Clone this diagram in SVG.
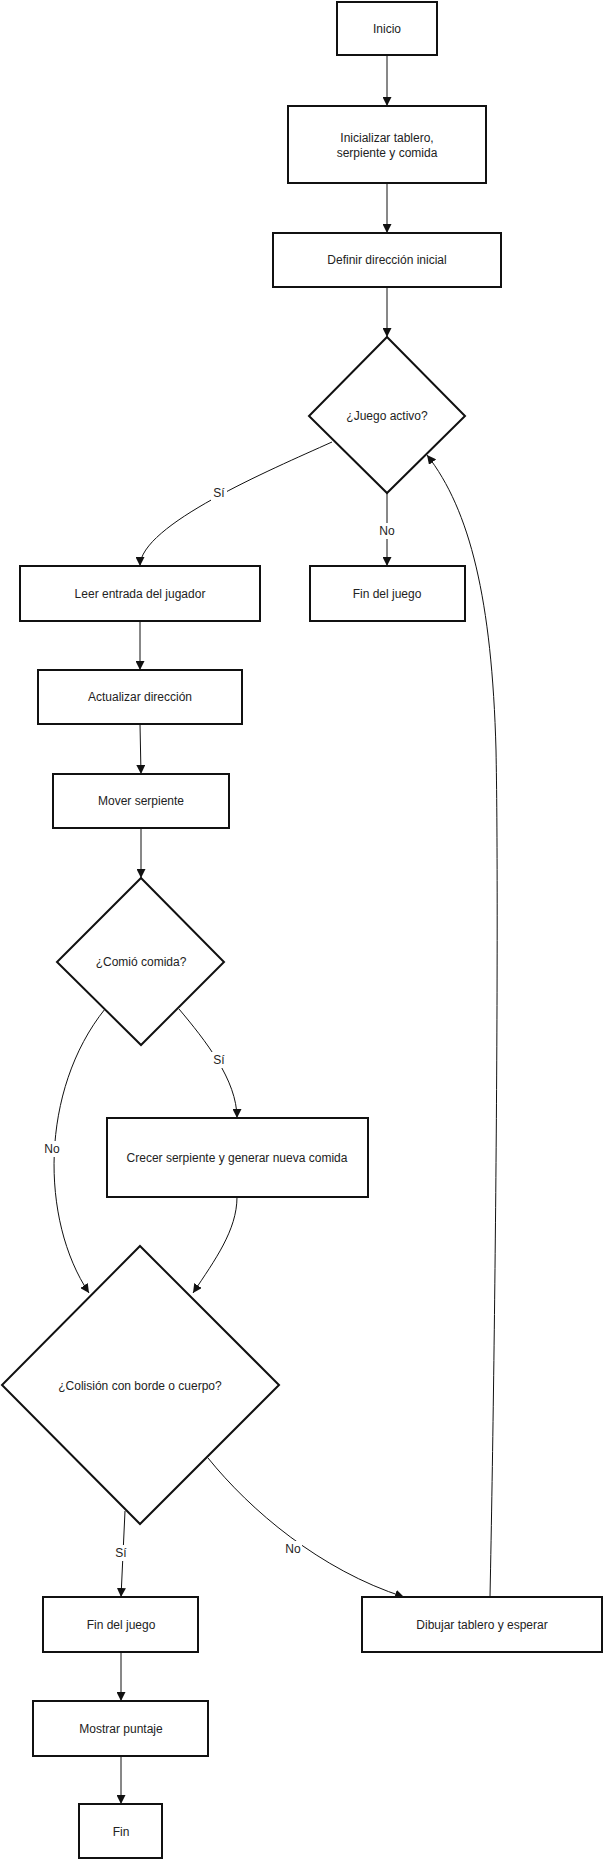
<svg xmlns="http://www.w3.org/2000/svg" width="603" height="1860" viewBox="0 0 603 1860">
<style>
.n{fill:#fff;stroke:#111;stroke-width:2}
.t{font-family:"Liberation Sans",Arial,sans-serif;font-size:12px;fill:#222;text-anchor:middle;dominant-baseline:central}
.e{fill:none;stroke:#111;stroke-width:1}
.lb{fill:#fff}
</style>
<defs>
<marker id="ah" viewBox="0 0 10 10" refX="10" refY="5" markerWidth="9" markerHeight="9" markerUnits="userSpaceOnUse" orient="auto">
<path d="M0,0 L10,5 L0,10 z" fill="#111"/>
</marker>
</defs>
<rect width="603" height="1860" fill="#fff"/>
<g id="edges">
<path class="e" marker-end="url(#ah)" d="M387,55 L387,106"/>
<path class="e" marker-end="url(#ah)" d="M387,183 L387,233"/>
<path class="e" marker-end="url(#ah)" d="M387,287 L387,337"/>
<path class="e" marker-end="url(#ah)" d="M332,442 C270,470 140,525 140,566"/>
<path class="e" marker-end="url(#ah)" d="M387,493 L387,566"/>
<path class="e" marker-end="url(#ah)" d="M140,621 L140,670"/>
<path class="e" marker-end="url(#ah)" d="M140,724 L141,774"/>
<path class="e" marker-end="url(#ah)" d="M141,828 L141,878"/>
<path class="e" marker-end="url(#ah)" d="M179,1009 C205,1040 237,1080 237,1118"/>
<path class="e" marker-end="url(#ah)" d="M105,1009 C40,1090 40,1220 89,1293"/>
<path class="e" marker-end="url(#ah)" d="M237,1197 C237,1230 215,1260 193,1293"/>
<path class="e" marker-end="url(#ah)" d="M125,1511 L121,1597"/>
<path class="e" marker-end="url(#ah)" d="M208,1458 C250,1510 320,1570 404,1597"/>
<path class="e" marker-end="url(#ah)" d="M121,1652 L121,1701"/>
<path class="e" marker-end="url(#ah)" d="M121,1756 L121,1804"/>
<path class="e" marker-end="url(#ah)" d="M490,1597 C496,1300 499,900 496,750 C492,600 470,510 427,455"/>
<rect class="lb" x="211" y="485" width="16" height="16"/>
<text class="t" x="219" y="493">Sí</text>
<rect class="lb" x="378" y="523" width="18" height="16"/>
<text class="t" x="387" y="531">No</text>
<rect class="lb" x="211" y="1052" width="16" height="16"/>
<text class="t" x="219" y="1060">Sí</text>
<rect class="lb" x="43" y="1141" width="18" height="16"/>
<text class="t" x="52" y="1149">No</text>
<rect class="lb" x="113" y="1545" width="16" height="16"/>
<text class="t" x="121" y="1553">Sí</text>
<rect class="lb" x="284" y="1541" width="18" height="16"/>
<text class="t" x="293" y="1549">No</text>
</g>
<g id="inicio"><rect class="n" x="337" y="2" width="100" height="53"/><text class="t" x="387" y="29">Inicio</text></g>
<g id="inicializar"><rect class="n" x="288" y="106" width="198" height="77"/><text class="t" x="387" y="138">Inicializar tablero,</text><text class="t" x="387" y="153">serpiente y comida</text></g>
<g id="definir"><rect class="n" x="273" y="233" width="228" height="54"/><text class="t" x="387" y="260">Definir dirección inicial</text></g>
<g id="juego"><polygon class="n" points="387,337 465,416 387,493 309,416"/><text class="t" x="387" y="416">¿Juego activo?</text></g>
<g id="leer"><rect class="n" x="20" y="566" width="240" height="55"/><text class="t" x="140" y="594">Leer entrada del jugador</text></g>
<g id="fin1"><rect class="n" x="310" y="566" width="155" height="55"/><text class="t" x="387" y="594">Fin del juego</text></g>
<g id="actualizar"><rect class="n" x="38" y="670" width="204" height="54"/><text class="t" x="140" y="697">Actualizar dirección</text></g>
<g id="mover"><rect class="n" x="53" y="774" width="176" height="54"/><text class="t" x="141" y="801">Mover serpiente</text></g>
<g id="comio"><polygon class="n" points="141,878 224,962 141,1045 57,962"/><text class="t" x="141" y="962">¿Comió comida?</text></g>
<g id="crecer"><rect class="n" x="107" y="1118" width="261" height="79"/><text class="t" x="237" y="1158">Crecer serpiente y generar nueva comida</text></g>
<g id="colision"><polygon class="n" points="140,1246 279,1385 140,1524 2,1385"/><text class="t" x="140" y="1386">¿Colisión con borde o cuerpo?</text></g>
<g id="fin2"><rect class="n" x="43" y="1597" width="155" height="55"/><text class="t" x="121" y="1625">Fin del juego</text></g>
<g id="dibujar"><rect class="n" x="362" y="1597" width="240" height="55"/><text class="t" x="482" y="1625">Dibujar tablero y esperar</text></g>
<g id="mostrar"><rect class="n" x="33" y="1701" width="175" height="55"/><text class="t" x="121" y="1729">Mostrar puntaje</text></g>
<g id="fin"><rect class="n" x="79" y="1804" width="83" height="54"/><text class="t" x="121" y="1832">Fin</text></g>
</svg>
